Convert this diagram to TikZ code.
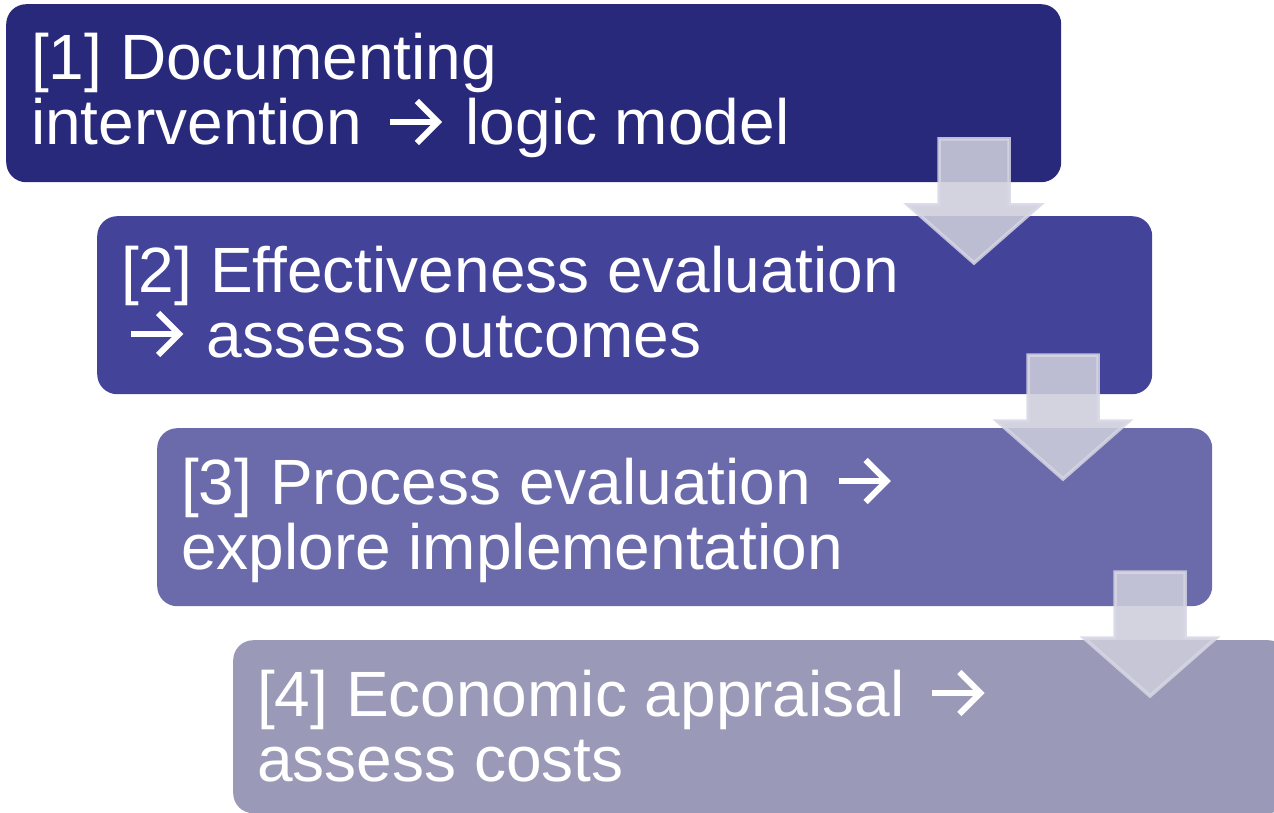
\documentclass[tikz,border=0pt]{standalone}
\usepackage{fontspec}
\setmainfont{Liberation Sans}
% a stroked chevron arrow used inside the step texts
\newcommand{\stepto}{\hspace{7pt}\tikz[baseline=0pt,x=1pt,y=1pt]{%
  \draw[white,line width=6pt,line cap=butt] (0,23) -- (49,23);
  \draw[white,line width=6pt,line join=miter,line cap=butt] (27,44) -- (48,23) -- (27,2);}\hspace{6pt}}
\begin{document}
\begin{tikzpicture}[x=1pt,y=-1pt,
  stepbox/.style={rounded corners=20pt, minimum width=1055pt, minimum height=178pt,
    anchor=north west, inner sep=0pt, draw=none},
  steptext/.style={anchor=base west, align=left, inner sep=0pt, text=white,
    font=\fontsize{64pt}{65pt}\selectfont},
  flowarrow/.style={fill=arrowfill, fill opacity=0.88, draw=arrowline, draw opacity=0.85,
    line width=3.5pt, line join=miter},
]
\definecolor{boxA}{RGB}{41,41,123}
\definecolor{boxB}{RGB}{67,67,154}
\definecolor{boxC}{RGB}{107,107,171}
\definecolor{boxD}{RGB}{154,154,184}
\definecolor{arrowfill}{RGB}{205,205,220}
\definecolor{arrowline}{RGB}{214,214,228}

\useasboundingbox (0,0) rectangle (1274,813);
\clip (0,0) rectangle (1274,813);

% the four steps
\node (s1) [stepbox, fill=boxA] at (6,4) {};
\node (s2) [stepbox, fill=boxB] at (97,216) {};
\node (s3) [stepbox, fill=boxC] at (157,428) {};
\node (s4) [stepbox, fill=boxD, minimum height=173pt] at (233,640) {};

% texts, anchored on the baseline of their second line
\node (t1) [steptext] at ([xshift=25pt,yshift=-141pt]s1.north west)
  {[1] Documenting\\intervention \stepto{} logic model};
\node (t2) [steptext] at ([xshift=24pt,yshift=-141pt]s2.north west)
  {[2] Effectiveness evaluation\\\stepto{} assess outcomes};
\node (t3) [steptext] at ([xshift=24pt,yshift=-141pt]s3.north west)
  {[3] Process evaluation \stepto\\explore implementation};
\node (t4) [steptext] at ([xshift=24pt,yshift=-141pt]s4.north west)
  {[4] Economic appraisal \stepto\\assess costs};

% down arrows between the steps
\tikzset{pics/downarrow/.style={code={
  \draw[flowarrow] (-35,0) -- (35,0) -- (35,66) -- (66,66) -- (0,124)
    -- (-66,66) -- (-35,66) -- cycle;}}}
\coordinate (a1) at (974,139);
\coordinate (a2) at (1063,355);
\coordinate (a3) at (1150,572);
\pic at (a1) {downarrow};
\pic at (a2) {downarrow};
\pic at (a3) {downarrow};
\end{tikzpicture}
\end{document}
